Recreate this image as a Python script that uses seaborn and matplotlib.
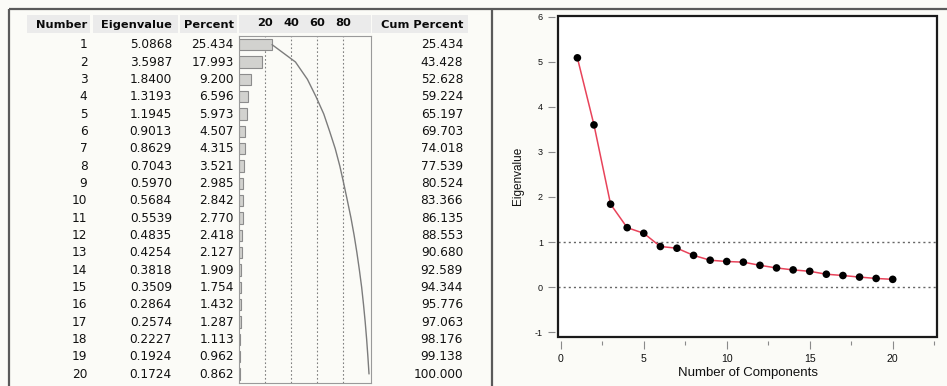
import numpy as np
import pandas as pd
import matplotlib
matplotlib.use("Agg")
import matplotlib.pyplot as plt
from matplotlib.patches import Rectangle
import seaborn as sns

# ---------------- data ----------------
numbers = list(range(1, 21))
eigenvalues = [5.0868, 3.5987, 1.8400, 1.3193, 1.1945, 0.9013, 0.8629, 0.7043,
               0.5970, 0.5684, 0.5539, 0.4835, 0.4254, 0.3818, 0.3509, 0.2864,
               0.2574, 0.2227, 0.1924, 0.1724]
percents = [25.434, 17.993, 9.200, 6.596, 5.973, 4.507, 4.315, 3.521, 2.985,
            2.842, 2.770, 2.418, 2.127, 1.909, 1.754, 1.432, 1.287, 1.113,
            0.962, 0.862]
cum_percents = [25.434, 43.428, 52.628, 59.224, 65.197, 69.703, 74.018, 77.539,
                80.524, 83.366, 86.135, 88.553, 90.680, 92.589, 94.344, 95.776,
                97.063, 98.176, 99.138, 100.000]
headers = ["Number", "Eigenvalue", "Percent", "Cum Percent"]
bar_ticks = [20, 40, 60, 80]
ref_lines = [1, 0]
x_major = [0, 5, 10, 15, 20]
x_minor = [2.5, 7.5, 12.5, 17.5, 22.5]
y_ticks = [-1, 0, 1, 2, 3, 4, 5, 6]

df = pd.DataFrame({"Number": numbers, "Eigenvalue": eigenvalues,
                   "Percent": percents, "Cum": cum_percents})

sns.set_style("white")
plt.rcParams["font.family"] = ["DejaVu Sans"]

W, H = 947, 386
fig = plt.figure(figsize=(W / 100, H / 100), dpi=100)
fig.patch.set_facecolor("#fbfbf7")

# background / table axes in pixel coordinates
bg = fig.add_axes([0, 0, 1, 1])
bg.set_xlim(0, W)
bg.set_ylim(H, 0)
bg.axis("off")

# frame lines
bg.plot([9, W], [9, 9], color="#5a5a5a", lw=1.6, solid_capstyle="butt")
bg.plot([9, 9], [9, H], color="#5a5a5a", lw=1.6, solid_capstyle="butt")
bg.plot([491.5, 491.5], [9, H], color="#5a5a5a", lw=1.6, solid_capstyle="butt")

# header cells
cells = [(27, 90), (93, 178), (180, 237), (239, 370.7), (372, 468)]
for x0, x1 in cells:
    bg.add_patch(Rectangle((x0, 15), x1 - x0, 18, facecolor="#ebebeb",
                           edgecolor="none", zorder=0))

hdr_x = [87.5, 172, 234, 463]
for x, t in zip(hdr_x, headers):
    bg.text(x, 24.5, t, ha="right", va="center", fontsize=8.2,
            fontweight="bold", color="#0a0a0a")

row0, dy = 45.0, 17.32
col_fmt = [("Number", 87.5, "{:d}"), ("Eigenvalue", 172, "{:.4f}"),
           ("Percent", 234, "{:.3f}"), ("Cum", 463, "{:.3f}")]
for i in range(len(df)):
    y = row0 + i * dy
    for col, x, fmt in col_fmt:
        bg.text(x, y, fmt.format(df[col].iloc[i]), ha="right", va="center",
                fontsize=8.7, color="#111111")

# bar chart column
bx0, bx1, by0, by1 = 239, 370.7, 36, 382.6
axb = fig.add_axes([bx0 / W, 1 - by1 / H, (bx1 - bx0) / W, (by1 - by0) / H])
axb.set_facecolor("#fbfbf7")
sns.barplot(data=df, x="Percent", y="Number", orient="h", native_scale=True,
            width=0.65, color="#d2d2cf", edgecolor="#8c8c8c", linewidth=0.8,
            saturation=1, ax=axb)
for t in bar_ticks:
    axb.axvline(t, color="#808080", lw=0.8, ls=(0, (1.5, 2)), zorder=0)
sns.lineplot(data=df, x="Cum", y="Number", color="#7c7c7c", lw=1.0,
             sort=False, estimator=None, orient="y", ax=axb)
axb.set_xlim(0, 101.3)
axb.set_ylim(20.5, 0.5)
axb.set_xlabel("")
axb.set_ylabel("")
axb.set_yticks([])
axb.xaxis.tick_top()
axb.set_xticks(bar_ticks)
axb.set_xticklabels([str(t) for t in bar_ticks], fontsize=8.2,
                    fontweight="bold", color="#0a0a0a")
axb.tick_params(axis="x", length=0, pad=5.5)
for s in axb.spines.values():
    s.set_visible(True)
    s.set_color("#9a9a9a")
    s.set_linewidth(0.8)

# ---------------- scree plot ----------------
ax0, ax1, ay0, ay1 = 558.3, 936.7, 16, 336.7
ax = fig.add_axes([ax0 / W, 1 - ay1 / H, (ax1 - ax0) / W, (ay1 - ay0) / H])
ax.set_facecolor("white")
for r in ref_lines:
    ax.axhline(r, color="#666666", lw=1.0, ls=(0, (1.5, 2.2)), zorder=1)
sns.lineplot(data=df, x="Number", y="Eigenvalue", color="#e8435a", lw=1.1,
             ax=ax, zorder=2)
sns.scatterplot(data=df, x="Number", y="Eigenvalue", color="black", s=30,
                edgecolor="none", ax=ax, zorder=3)
ax.set_xlim(-0.15, 22.65)
ax.set_ylim(-1.1, 6.015)

for s in ax.spines.values():
    s.set_visible(False)
ax.spines["left"].set_position(("outward", 2.5))
ax.spines["bottom"].set_position(("outward", 3))
ax.add_patch(Rectangle((0, 0), 1, 1, transform=ax.transAxes, fill=False,
                       lw=1.6, edgecolor="#1a1a1a", clip_on=False, zorder=5))

ax.set_xticks(x_major)
ax.set_xticklabels([str(v) for v in x_major])
ax.set_xticks(x_minor, minor=True)
ax.set_yticks(y_ticks)
ax.set_yticklabels([str(v) for v in y_ticks])
ax.tick_params(axis="x", which="major", bottom=True, length=6, width=0.8,
               color="#8a8a8a", labelsize=7.6, labelcolor="#111", pad=3.6)
ax.tick_params(axis="x", which="minor", bottom=True, length=3, width=0.8,
               color="#8a8a8a")
ax.tick_params(axis="y", left=True, length=5, width=0.8, color="#8a8a8a",
               labelsize=6.5, labelcolor="#111", pad=3.6)
for lab in ax.get_xticklabels() + ax.get_yticklabels():
    lab.set_family("Liberation Sans")
ax.set_xlabel("Number of Components", fontsize=9.5, family="Liberation Sans",
              color="#111", labelpad=2)
ax.set_ylabel("Eigenvalue", fontsize=8.5, family="Liberation Sans",
              color="#111", labelpad=8)

fig.savefig("out.png", dpi=100, facecolor=fig.get_facecolor())
